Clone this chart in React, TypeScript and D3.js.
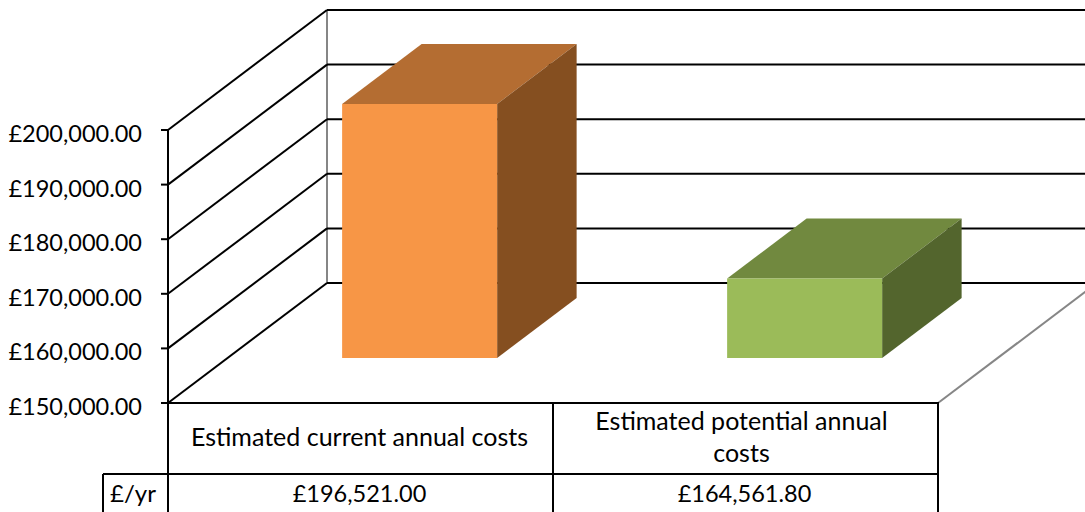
import React from "react";
import * as d3 from "d3";

const categories = ["Estimated current annual costs", "Estimated potential annual costs"];
const categoryLines = [["Estimated current annual costs"], ["Estimated potential annual", "costs"]];
const values = [196521.0, 164561.8];
const valueLabels = ["£196,521.00", "£164,561.80"];
const ticks = [150000, 160000, 170000, 180000, 190000, 200000];
const frontColors = ["#F79646", "#9BBB59"];
const topColors = ["#B46D32", "#71893F"];
const sideColors = ["#854F20", "#53652D"];
const rowHeader = "£/yr";

const W = 1085, H = 512;
const x = d3.scaleBand<string>().domain(categories).range([168, 938]);
const y = d3.scaleLinear().domain([150000, 200000]).range([403, 130]);
const DX = 159, DY = -120;
const fmt = (v: number) => "£" + d3.format(",.2f")(v);
const font = "Lato, Carlito, sans-serif";
const poly = (pts: number[][]) => d3.line()(pts as [number, number][]) + "Z";

export default function App() {
  const band = x.bandwidth();
  const barW = 155;
  return (
    <svg width={W} height={H} viewBox={`0 0 ${W} ${H}`} style={{ position: "absolute", left: 0, top: 0, background: "#fff" }}>
      {/* back wall */}
      <line x1={168 + DX} x2={168 + DX} y1={y(200000) + DY} y2={y(150000) + DY} stroke="#868686" strokeWidth={2} />
      {/* floor right edge */}
      <line x1={938} y1={403} x2={938 + DX} y2={403 + DY} stroke="#868686" strokeWidth={2} />
      {ticks.map((t) => (
        <g key={t} stroke="#000" strokeWidth={2} fill="none">
          <path d={`M${168 + DX} ${y(t) + DY}H${W + 5}`} />
          <path d={`M168 ${y(t)}L${168 + DX} ${y(t) + DY}`} />
          <path d={`M161 ${y(t)}H168`} />
        </g>
      ))}
      <line x1={168} x2={168} y1={y(200000)} y2={H} stroke="#000" strokeWidth={2} />
      {ticks.map((t) => (
        <text key={t} x={142} y={y(t) + 12} textAnchor="end" fontFamily={font} fontSize={23.5} fill="#000">{fmt(t)}</text>
      ))}
      {/* bars */}
      {categories.map((c, i) => {
        const x0 = x(c)! + band / 2 - barW / 2 + 0.375 * DX - 0.5;
        const x1 = x0 + barW;
        const base = y(150000) + 0.375 * DY;
        const top = y(values[i]) + 0.375 * DY;
        const dx = 0.5 * DX, dy = 0.5 * DY;
        return (
          <g key={c}>
            <path d={poly([[x0, top], [x1, top], [x1 + dx, top + dy], [x0 + dx, top + dy]])} fill={topColors[i]} />
            <path d={poly([[x1, top], [x1 + dx, top + dy], [x1 + dx, base + dy], [x1, base]])} fill={sideColors[i]} />
            <rect x={x0} y={top} width={barW} height={base - top} fill={frontColors[i]} />
          </g>
        );
      })}
      {/* data table */}
      <g stroke="#000" strokeWidth={2} fill="none">
        <path d={`M168 403H938V${H}`} />
        <path d={`M103 474H938`} />
        <path d={`M103 474V${H}`} />
        <path d={`M553 403V${H}`} />
      </g>
      {categories.map((c, i) => {
        const cx = x(c)! + band / 2 - 1;
        const lines = categoryLines[i];
        return (
          <g key={c}>
            {lines.map((l, j) => (
              <text key={l} x={cx - (i === 1 ? 3 : 0)} y={(lines.length === 1 ? 446 : 430) + j * 32} textAnchor="middle" fontFamily={font} fontSize={25} fill="#000">{l}</text>
            ))}
            <text x={cx} y={502} textAnchor="middle" fontFamily={font} fontSize={23.5} fill="#000">{valueLabels[i]}</text>
          </g>
        );
      })}
      <text x={110} y={502} fontFamily={font} fontSize={24} fill="#000">{rowHeader}</text>
    </svg>
  );
}
